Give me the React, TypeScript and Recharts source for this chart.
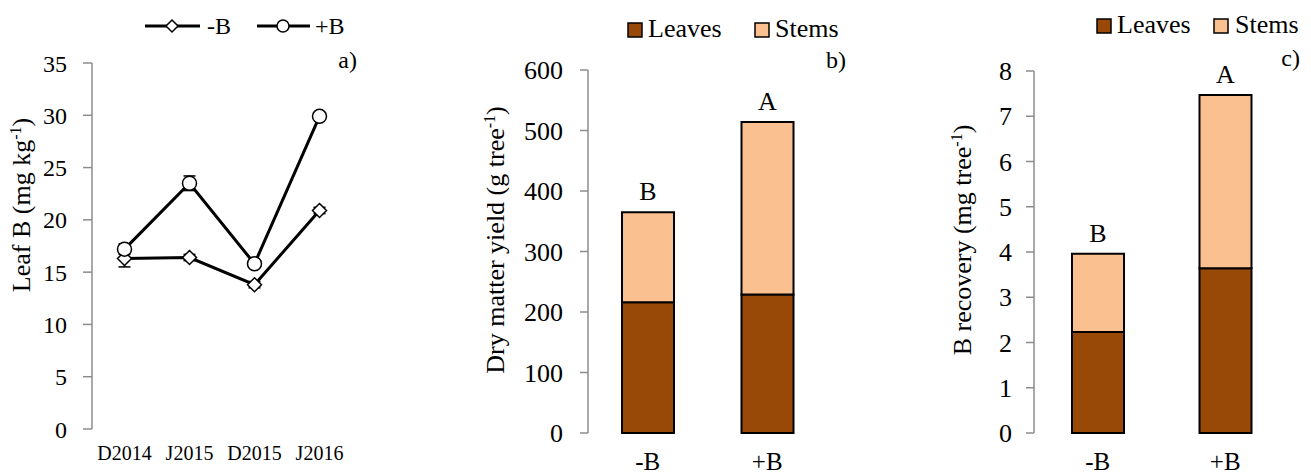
import React from 'react';
import {
  LineChart,
  Line,
  BarChart,
  Bar,
  XAxis,
  YAxis,
  ErrorBar,
  LabelList,
  Legend,
  Customized,
} from 'recharts';

const FONT = '"Liberation Serif", "Times New Roman", Times, serif';
const AXIS = '#8c8c8c';
const BROWN = '#984807';
const PEACH = '#FAC090';

// ---- Panel a data ----
const dates = ['D2014', 'J2015', 'D2015', 'J2016'];
const minusB = [16.3, 16.4, 13.8, 20.9];
const minusBErr = [0.8, 0.3, 0.3, 0.3];
const plusB = [17.2, 23.5, 15.8, 29.9];
const plusBErr = [0.5, 0.7, 0.3, 0.3];
const leafTicks = [0, 5, 10, 15, 20, 25, 30, 35];

// ---- Panel b data ----
const treatments = ['-B', '+B'];
const dmLeaves = [216, 229];
const dmStems = [149, 285];
const dmLetters = ['B', 'A'];
const dmTicks = [0, 100, 200, 300, 400, 500, 600];

// ---- Panel c data ----
const recLeaves = [2.23, 3.64];
const recStems = [1.73, 3.83];
const recLetters = ['B', 'A'];
const recTicks = [0, 1, 2, 3, 4, 5, 6, 7, 8];

const lineData = dates.map((d, i) => ({
  pos: i + 0.5,
  date: d,
  minusB: minusB[i],
  minusBErr: minusBErr[i],
  plusB: plusB[i],
  plusBErr: plusBErr[i],
}));

const dmData = treatments.map((t, i) => ({
  name: t,
  pos: i + 0.5,
  leaves: dmLeaves[i],
  stems: dmStems[i],
  letter: dmLetters[i],
}));

const recData = treatments.map((t, i) => ({
  name: t,
  pos: i + 0.5,
  leaves: recLeaves[i],
  stems: recStems[i],
  letter: recLetters[i],
}));

const Diamond = (props: any) => {
  const { cx, cy } = props;
  if (cx == null || cy == null) return null;
  const s = 7;
  return (
    <path
      d={`M${cx},${cy - s} L${cx + s},${cy} L${cx},${cy + s} L${cx - s},${cy} Z`}
      fill="#fff"
      stroke="#000"
      strokeWidth={1.5}
    />
  );
};

const Circ = (props: any) => {
  const { cx, cy } = props;
  if (cx == null || cy == null) return null;
  return <circle cx={cx} cy={cy} r={7} fill="#fff" stroke="#000" strokeWidth={1.5} />;
};

const YTitle = ({ x, y, main, sup, tail }: any) => (
  <text
    x={x}
    y={y}
    transform={`rotate(-90 ${x} ${y})`}
    textAnchor="middle"
    fontFamily={FONT}
    fontSize={26}
    fill="#000"
  >
    {main}
    <tspan dy={-9} fontSize={16}>
      {sup}
    </tspan>
    <tspan dy={9}>{tail}</tspan>
  </text>
);

const LineLegend = () => (
  <svg width={230} height={70} style={{ overflow: 'visible' }}>
    <line x1={5} y1={16} x2={60} y2={16} stroke="#000" strokeWidth={3} />
    <path d="M32,10 L38,16 L32,22 L26,16 Z" fill="#fff" stroke="#000" strokeWidth={1.5} />
    <text x={67} y={23.5} fontFamily={FONT} fontSize={24} fill="#000">
      -B
    </text>
    <line x1={117} y1={16} x2={170} y2={16} stroke="#000" strokeWidth={3} />
    <circle cx={143} cy={16} r={6} fill="#fff" stroke="#000" strokeWidth={1.5} />
    <text x={175} y={23.5} fontFamily={FONT} fontSize={24} fill="#000">
      +B
    </text>
    <text x={217} y={58} textAnchor="end" fontFamily={FONT} fontSize={24} fill="#000">
      a)
    </text>
  </svg>
);

const BarLegend = ({ stemsBox, stemsText, corner, cornerX, cornerY, boxY, baseY }: any) => (
  <svg width={215} height={70} style={{ overflow: 'visible' }}>
    <rect x={3} y={boxY} width={14} height={14} fill={BROWN} stroke="#000" strokeWidth={1.5} />
    <text x={23} y={baseY} fontFamily={FONT} fontSize={26} fill="#000">
      Leaves
    </text>
    <rect x={stemsBox} y={boxY} width={14} height={14} fill={PEACH} stroke="#000" strokeWidth={1.5} />
    <text x={stemsText} y={baseY} fontFamily={FONT} fontSize={26} fill="#000">
      Stems
    </text>
    <text x={cornerX} y={cornerY} textAnchor="end" fontFamily={FONT} fontSize={24} fill="#000">
      {corner}
    </text>
  </svg>
);

const axisLine = { stroke: AXIS, strokeWidth: 1.5 };

const PanelA = () => (
  <LineChart
    width={370}
    height={476}
    data={lineData}
    margin={{ top: 63, left: 32, right: 18, bottom: 12 }}
  >
    <XAxis
      xAxisId="grid"
      type="number"
      dataKey="pos"
      domain={[0, 4]}
      ticks={[0, 1, 2, 3, 4]}
      tick={false}
      height={0}
      tickSize={5}
      axisLine={axisLine}
      tickLine={axisLine}
    />
    <XAxis
      xAxisId="lab"
      type="number"
      dataKey="pos"
      domain={[0, 4]}
      ticks={[0.5, 1.5, 2.5, 3.5]}
      tickFormatter={(v: number) => dates[Math.floor(v)]}
      height={35}
      axisLine={false}
      tickLine={false}
      tickSize={0}
      tickMargin={17}
      tick={{ fontSize: 20, fill: '#000', fontFamily: FONT }}
    />
    <YAxis
      domain={[0, 35]}
      ticks={leafTicks}
      width={60}
      tickSize={9}
      tickMargin={16}
      axisLine={axisLine}
      tickLine={axisLine}
      tick={{ fontSize: 24, fill: '#000', fontFamily: FONT }}
    />
    <Line
      xAxisId="lab"
      dataKey="minusB"
      stroke="#000"
      strokeWidth={3}
      dot={<Diamond />}
      activeDot={false}
      isAnimationActive={false}
    >
      <ErrorBar dataKey="minusBErr" width={6} stroke="#000" strokeWidth={1.5} direction="y" />
    </Line>
    <Line
      xAxisId="lab"
      dataKey="plusB"
      stroke="#000"
      strokeWidth={3}
      dot={<Circ />}
      activeDot={false}
      isAnimationActive={false}
    >
      <ErrorBar dataKey="plusBErr" width={6} stroke="#000" strokeWidth={1.5} direction="y" />
    </Line>
    <Legend
      verticalAlign="middle"
      align="center"
      layout="horizontal"
      wrapperStyle={{ left: 140, top: 10, width: 230, height: 70 }}
      content={() => <LineLegend />}
    />
    <Customized component={() => <YTitle x={30} y={205} main="Leaf B (mg kg" sup="-1" tail=")" />} />
  </LineChart>
);

const StackPanel = ({ data, ticks, max, yWidth, margin, tickMargin, title, legend }: any) => (
  <BarChart width={margin.w} height={476} data={data} margin={margin.m}>
    <XAxis
      xAxisId="grid"
      type="number"
      dataKey="pos"
      domain={[0, 2]}
      ticks={[0, 1, 2]}
      tick={false}
      height={0}
      tickSize={6}
      axisLine={axisLine}
      tickLine={axisLine}
    />
    <XAxis
      xAxisId="cat"
      dataKey="name"
      height={40}
      axisLine={false}
      tickLine={false}
      tickSize={0}
      tickMargin={19}
      interval={0}
      tick={{ fontSize: 25, fill: '#000', fontFamily: FONT }}
    />
    <YAxis
      domain={[0, max]}
      ticks={ticks}
      width={yWidth}
      tickSize={8}
      tickMargin={tickMargin}
      axisLine={axisLine}
      tickLine={axisLine}
      tick={{ fontSize: 26, fill: '#000', fontFamily: FONT }}
    />
    <Bar
      xAxisId="cat"
      dataKey="leaves"
      stackId="s"
      fill={BROWN}
      stroke="#000"
      strokeWidth={2}
      barSize={52}
      isAnimationActive={false}
    />
    <Bar
      xAxisId="cat"
      dataKey="stems"
      stackId="s"
      fill={PEACH}
      stroke="#000"
      strokeWidth={2}
      barSize={52}
      isAnimationActive={false}
    >
      <LabelList dataKey="letter" position="top" offset={12} fontSize={26} fill="#000" fontFamily={FONT} />
    </Bar>
    <Legend
      verticalAlign="middle"
      align="center"
      layout="horizontal"
      wrapperStyle={legend.style}
      content={() => <BarLegend {...legend.props} />}
    />
    <Customized component={() => title} />
  </BarChart>
);

export default function App() {
  return (
    <div
      style={{
        position: 'absolute',
        left: 0,
        top: 0,
        width: 1311,
        height: 476,
        background: '#fff',
        overflow: 'hidden',
      }}
    >
      <div style={{ position: 'absolute', left: 0, top: 0 }}>
        <PanelA />
      </div>
      <div style={{ position: 'absolute', left: 470, top: 0 }}>
        <StackPanel
          data={dmData}
          ticks={dmTicks}
          max={600}
          yWidth={80}
          tickMargin={17}
          margin={{ w: 400, m: { top: 70, left: 38, right: 43, bottom: 3 } }}
          title={<YTitle x={34} y={240} main="Dry matter yield (g tree" sup="-1" tail=")" />}
          legend={{
            style: { left: 155, top: 15, width: 215, height: 70 },
            props: {
              stemsBox: 130,
              stemsText: 150,
              corner: 'b)',
              cornerX: 221,
              cornerY: 53,
              boxY: 8,
              baseY: 21.7,
            },
          }}
        />
      </div>
      <div style={{ position: 'absolute', left: 940, top: 0 }}>
        <StackPanel
          data={recData}
          ticks={recTicks}
          max={8}
          yWidth={70}
          tickMargin={14}
          margin={{ w: 371, m: { top: 71, left: 24, right: 22, bottom: 3 } }}
          title={<YTitle x={31} y={240} main="B recovery (mg tree" sup="-1" tail=")" />}
          legend={{
            style: { left: 154, top: 11, width: 215, height: 70 },
            props: {
              stemsBox: 120,
              stemsText: 141,
              corner: 'c)',
              cornerX: 206,
              cornerY: 55,
              boxY: 8,
              baseY: 22.3,
            },
          }}
        />
      </div>
    </div>
  );
}
